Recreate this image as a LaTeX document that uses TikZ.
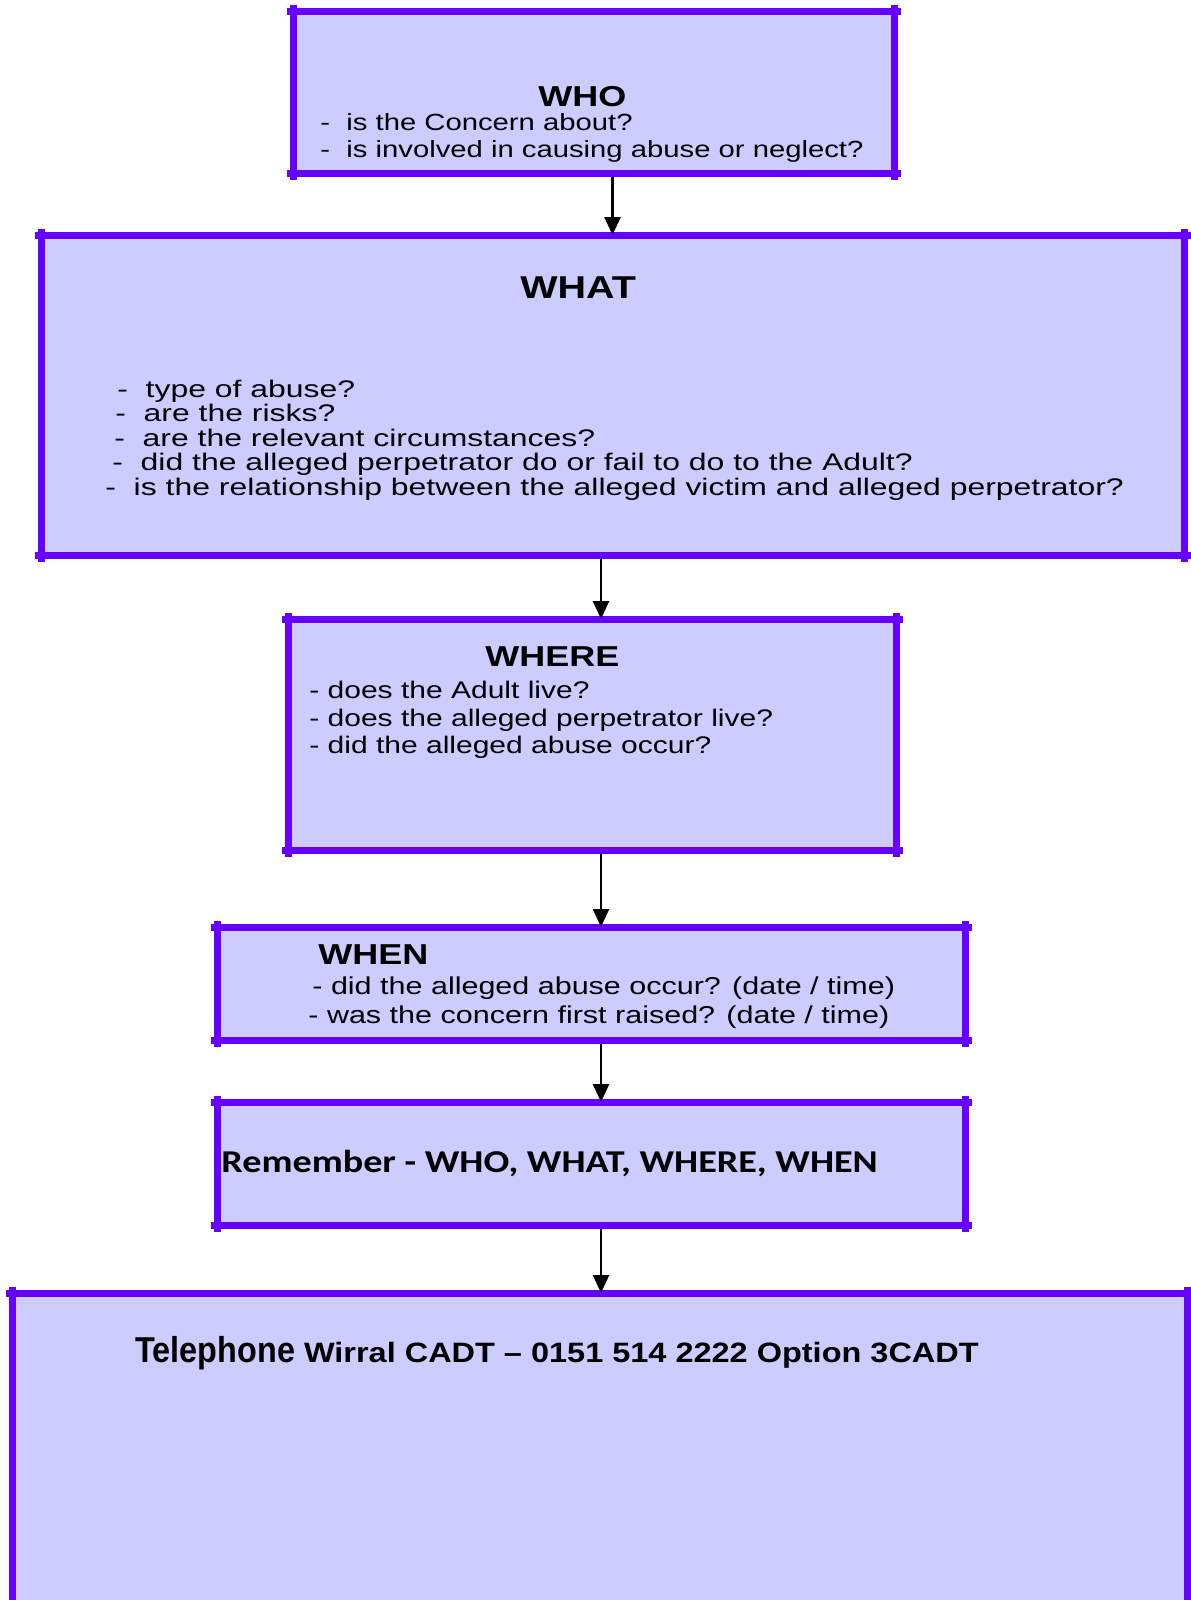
\documentclass[tikz,border=0pt]{standalone}
\usepackage{fontspec}
\setmainfont{Liberation Sans}[FakeStretch=1.25]
\newfontfamily\widefont{Liberation Sans}[FakeStretch=1.33]
\newfontfamily\telfont{Liberation Sans}[FakeStretch=0.9]
\newfontfamily\phonefont{Liberation Sans}[FakeStretch=1.16]
\newfontfamily\remfont{Carlito}[FakeStretch=1.2]
\usepackage{tikz}
\usetikzlibrary{arrows.meta}
\definecolor{boxfill}{HTML}{CCCCFF}
\definecolor{boxedge}{HTML}{6600FF}

\begin{document}
\begin{tikzpicture}[x=0.5pt,y=-0.5pt,
    qbox/.style={rectangle, fill=boxfill, inner sep=0pt, outer sep=0pt},
    qedge/.style={draw=boxedge, line width=3.5pt, line cap=rect, shorten <=-1.5pt, shorten >=-1.5pt},
    head/.style={anchor=base west, inner sep=0pt, font=\fontsize{14.4}{17}\selectfont\bfseries},
    item/.style={anchor=base west, inner sep=0pt, font=\fontsize{12}{14}\selectfont},
    whatitem/.style={item, font=\widefont\fontsize{12}{15}\selectfont},
    flow/.style={line width=1.3pt, -{Triangle[width=8pt,length=9pt]}}]
  \path[use as bounding box, fill=white] (0,0) rectangle (1190,1600);

  % the six boxes
  \node[qbox, minimum width=300.5pt, minimum height=80.5pt] (who) at (593.5,92.5) {};
  \node[qbox, minimum width=571.5pt, minimum height=160pt] (what) at (612.5,395) {};
  \node[qbox, minimum width=304pt, minimum height=115.5pt] (where) at (592,734.5) {};
  \node[qbox, minimum width=374pt, minimum height=56.5pt] (when) at (591,983.5) {};
  \node[qbox, minimum width=374pt, minimum height=61.5pt] (remember) at (591,1163.5) {};
  \node[qbox, minimum width=587.5pt, minimum height=173.5pt] (phone) at (599.5,1466.5) {};
  \foreach \b in {who,what,where,when,remember,phone} {
    \draw[qedge] (\b.north west) -- (\b.north east);
    \draw[qedge] (\b.south west) -- (\b.south east);
    \draw[qedge] (\b.north west) -- (\b.south west);
    \draw[qedge] (\b.north east) -- (\b.south east);
  }

  % WHO
  \node[head] (whohead) at (538,106) {WHO};
  \node[item, font=\fontsize{11.7}{14}\selectfont] (who1) at (320,131) {-\ \ is the Concern about?};
  \node[item, font=\fontsize{11.7}{14}\selectfont] (who2) at (320,157) {-\ \ is involved in causing abuse or neglect?};

  % WHAT
  \node[head, font=\fontsize{15.8}{18}\selectfont\bfseries] (whathead) at (520,298) {WHAT};
  \node[whatitem] (what1) at (117,397) {-\ \ type of abuse?};
  \node[whatitem] (what2) at (115,421.5) {-\ \ are the risks?};
  \node[whatitem] (what3) at (114,446) {-\ \ are the relevant circumstances?};
  \node[whatitem] (what4) at (112,470.5) {-\ \ did the alleged perpetrator do or fail to do to the Adult?};
  \node[whatitem] (what5) at (105,495) {-\ \ is the relationship between the alleged victim and alleged perpetrator?};

  % WHERE
  \node[head] (wherehead) at (485,666) {WHERE};
  \node[item] (where1) at (309,698) {- does the Adult live?};
  \node[item] (where2) at (309,726) {- does the alleged perpetrator live?};
  \node[item] (where3) at (309,753) {- did the alleged abuse occur?};

  % WHEN
  \node[head] (whenhead) at (318,964) {WHEN};
  \node[item, font=\fontsize{12.2}{14}\selectfont] (when1) at (312,994) {- did the alleged abuse occur? (date / time)};
  \node[item, font=\fontsize{12.2}{14}\selectfont] (when2) at (308,1023) {- was the concern first raised? (date / time)};

  % reminder and phone line
  \node[anchor=base west, inner sep=0pt, font=\remfont\bfseries\fontsize{15.9}{18}\selectfont] (remtext) at (221,1172) {Remember - WHO, WHAT, WHERE, WHEN};
  \node[anchor=base west, inner sep=0pt, font=\bfseries] (phonetext) at (135,1362)
    {\telfont\fontsize{18}{21}\selectfont Telephone {\phonefont\fontsize{14}{17}\selectfont Wirral CADT – 0151 514 2222 Option 3CADT}};

  % connectors
  \coordinate (spine) at (601,0);
  \draw[flow, shorten <=1.75pt] (who.south -| what.north) -- (what.north);
  \draw[flow, shorten <=1.75pt] (what.south -| spine) -- (where.north -| spine);
  \draw[flow, shorten <=1.75pt] (where.south -| spine) -- (when.north -| spine);
  \draw[flow, shorten <=1.75pt] (when.south -| spine) -- (remember.north -| spine);
  \draw[flow, shorten <=1.75pt] (remember.south -| spine) -- (phone.north -| spine);
\end{tikzpicture}
\end{document}
